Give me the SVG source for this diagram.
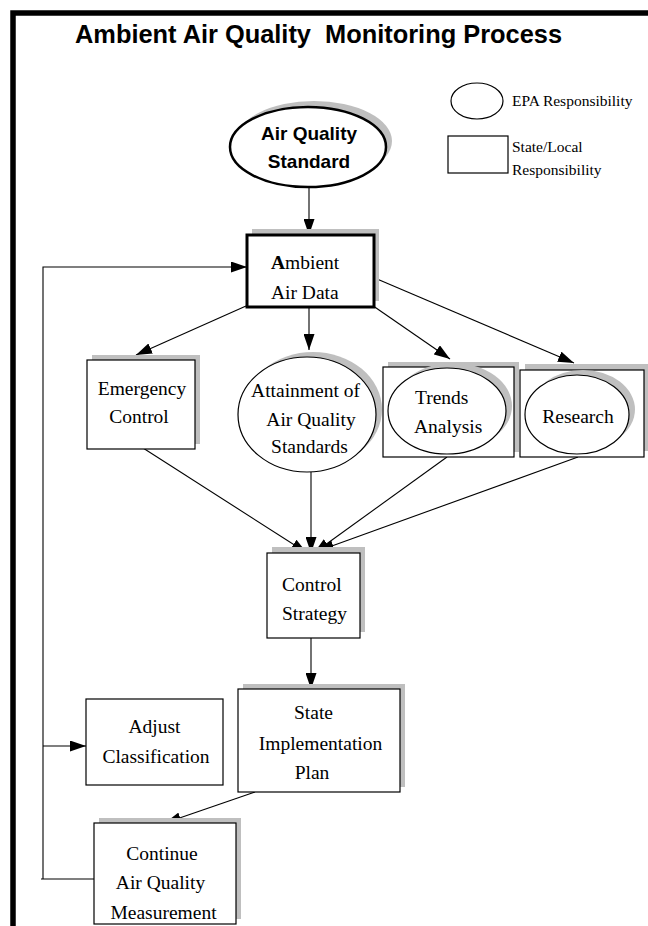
<svg xmlns="http://www.w3.org/2000/svg" width="648" height="926" viewBox="0 0 648 926">
  <style>
    .frame { fill: none; stroke: #000; stroke-width: 5.5; }
    .box { fill: #fff; stroke: #000; stroke-width: 1.2; }
    .bold-box { fill: #fff; stroke: #000; stroke-width: 3; }
    .shadow { fill: #bfbfbf; stroke: none; }
    .wire { fill: none; stroke: #000; stroke-width: 1.1; }
    .title { font-family: "Liberation Sans", Arial, sans-serif; font-weight: bold; font-size: 25px; fill: #000; white-space: pre; }
    .sans { font-family: "Liberation Sans", Arial, sans-serif; font-weight: bold; font-size: 19px; fill: #000; text-anchor: middle; }
    .serif { font-family: "Liberation Serif", "Times New Roman", serif; font-size: 19.5px; fill: #000; text-anchor: middle; }
    .legend { font-family: "Liberation Serif", "Times New Roman", serif; font-size: 15.5px; fill: #000; }
  </style>
  <defs>
    <marker id="arrow" viewBox="0 0 16 11" refX="16" refY="5.5" markerWidth="16" markerHeight="11" markerUnits="userSpaceOnUse" orient="auto">
      <path d="M0,0 L16,5.5 L0,11 z" fill="#000"/>
    </marker>
  </defs>

  <!-- page frame (top and left edges) -->
  <path class="frame" d="M13,926 V13 H648"/>

  <text class="title" x="75" y="43" xml:space="preserve" textLength="487" lengthAdjust="spacingAndGlyphs">Ambient Air Quality  Monitoring Process</text>

  <!-- legend -->
  <g id="legend">
    <ellipse class="box" cx="477" cy="101" rx="26" ry="18"/>
    <text class="legend" x="512" y="106">EPA Responsibility</text>
    <rect class="box" x="448" y="136" width="60" height="37"/>
    <text class="legend" x="512" y="152">State/Local</text>
    <text class="legend" x="512" y="175">Responsibility</text>
  </g>

  <!-- connectors -->
  <g id="connectors">
    <line class="wire" x1="309" y1="187" x2="309" y2="235" marker-end="url(#arrow)"/>
    <path class="wire" d="M94,879 H41"/>
    <path class="wire" d="M43,879 V267 H247" marker-end="url(#arrow)"/>
    <line class="wire" x1="43" y1="746" x2="86" y2="746" marker-end="url(#arrow)"/>
    <line class="wire" x1="246" y1="306" x2="136" y2="355" marker-end="url(#arrow)"/>
    <line class="wire" x1="309" y1="306" x2="309" y2="350" marker-end="url(#arrow)"/>
    <line class="wire" x1="366" y1="301" x2="450" y2="359" marker-end="url(#arrow)"/>
    <line class="wire" x1="370" y1="276" x2="574" y2="363" marker-end="url(#arrow)"/>
    <line class="wire" x1="143" y1="448" x2="307" y2="553" marker-end="url(#arrow)"/>
    <line class="wire" x1="311" y1="472" x2="311" y2="553" marker-end="url(#arrow)"/>
    <line class="wire" x1="447" y1="457" x2="314" y2="553" marker-end="url(#arrow)"/>
    <line class="wire" x1="578" y1="457" x2="318" y2="551" marker-end="url(#arrow)"/>
    <line class="wire" x1="311" y1="638" x2="311" y2="689" marker-end="url(#arrow)"/>
    <line class="wire" x1="255" y1="792" x2="165" y2="823" marker-end="url(#arrow)"/>
  </g>

  <g id="air-quality-standard">
    <ellipse class="shadow" cx="314" cy="141" rx="78" ry="40"/>
    <ellipse fill="#fff" stroke="#000" stroke-width="2.5" cx="308" cy="147" rx="78" ry="40"/>
    <text class="sans" x="309" y="140">Air Quality</text>
    <text class="sans" x="309" y="168">Standard</text>
  </g>

  <g id="ambient-air-data">
    <rect class="shadow" x="252" y="229" width="127" height="72"/>
    <rect class="bold-box" x="247" y="235" width="127" height="72"/>
    <text class="serif" x="271" y="269" style="text-anchor:start"><tspan font-weight="bold">A</tspan>mbient</text>
    <text class="serif" x="271" y="299" style="text-anchor:start">Air Data</text>
  </g>

  <g id="emergency-control">
    <rect class="shadow" x="92" y="355" width="108" height="89"/>
    <rect class="box" x="87" y="360" width="108" height="89"/>
    <text class="serif" x="142" y="395">Emergency</text>
    <text class="serif" x="139" y="423">Control</text>
  </g>

  <g id="attainment">
    <ellipse class="shadow" cx="313" cy="409.5" rx="69" ry="57.5"/>
    <ellipse class="box" cx="307" cy="414.5" rx="69" ry="57.5"/>
    <text class="serif" x="305.5" y="397">Attainment of</text>
    <text class="serif" x="311" y="426">Air Quality</text>
    <text class="serif" x="309.5" y="453">Standards</text>
  </g>

  <g id="trends-analysis">
    <rect class="shadow" x="388" y="362" width="131" height="90"/>
    <rect class="box" x="383" y="367" width="131" height="90"/>
    <ellipse class="shadow" cx="453" cy="406" rx="59" ry="43"/>
    <ellipse class="box" cx="447" cy="411" rx="59" ry="43"/>
    <text class="serif" x="415" y="404" style="text-anchor:start">Trends</text>
    <text class="serif" x="414" y="433" style="text-anchor:start">Analysis</text>
  </g>

  <g id="research">
    <rect class="shadow" x="525" y="364" width="124" height="87"/>
    <rect class="box" x="520" y="370" width="124" height="87"/>
    <ellipse class="shadow" cx="583" cy="409.5" rx="52" ry="39.5"/>
    <ellipse class="box" cx="577" cy="414.5" rx="52" ry="39.5"/>
    <text class="serif" x="578" y="423">Research</text>
  </g>

  <g id="control-strategy">
    <rect class="shadow" x="272" y="547" width="93" height="85"/>
    <rect class="box" x="267" y="553" width="93" height="85"/>
    <text class="serif" x="282" y="591" style="text-anchor:start">Control</text>
    <text class="serif" x="282" y="620" style="text-anchor:start">Strategy</text>
  </g>

  <g id="state-implementation-plan">
    <rect class="shadow" x="243" y="684" width="162" height="103"/>
    <rect class="box" x="238" y="689" width="162" height="103"/>
    <text class="serif" x="313.5" y="719">State</text>
    <text class="serif" x="320.5" y="750">Implementation</text>
    <text class="serif" x="312" y="779">Plan</text>
  </g>

  <g id="adjust-classification">
    <rect class="box" x="86" y="699" width="137" height="86"/>
    <text class="serif" x="154.5" y="733">Adjust</text>
    <text class="serif" x="156" y="763">Classification</text>
  </g>

  <g id="continue-measurement">
    <rect class="shadow" x="99" y="818" width="142" height="101"/>
    <rect class="box" x="94" y="823" width="142" height="101"/>
    <text class="serif" x="162" y="860">Continue</text>
    <text class="serif" x="160.5" y="889">Air Quality</text>
    <text class="serif" x="163.5" y="919">Measurement</text>
  </g>
</svg>
